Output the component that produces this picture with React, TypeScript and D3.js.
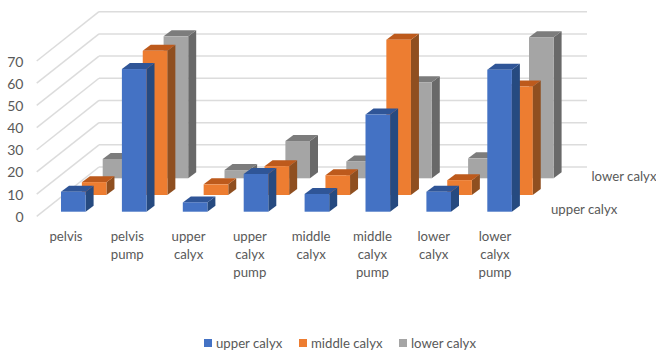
import React from "react";
import * as d3 from "d3";

const categories = [
  ["pelvis"],
  ["pelvis", "pump"],
  ["upper", "calyx"],
  ["upper", "calyx", "pump"],
  ["middle", "calyx"],
  ["middle", "calyx", "pump"],
  ["lower", "calyx"],
  ["lower", "calyx", "pump"],
];
const upperCalyx = [9, 64.3, 4.2, 17, 8, 43.8, 9, 64];
const middleCalyx = [5.8, 65, 4.8, 13, 8.9, 70, 6.7, 48.9];
const lowerCalyx = [8.7, 64, 3.7, 16.8, 7.6, 43.3, 9, 63.6];
const yTicks = [0, 10, 20, 30, 40, 50, 60, 70];
const seriesNames = ["upper calyx", "middle calyx", "lower calyx"];
const seriesValues = [upperCalyx, middleCalyx, lowerCalyx];
const seriesColors = [
  { front: "#4472c4", top: "#2f5597", side: "#264a80" },
  { front: "#ed7d31", top: "#bd5a1c", side: "#8f4f20" },
  { front: "#a5a5a5", top: "#7c7c7c", side: "#696969" },
];

const FONT = "Lato, 'Open Sans', sans-serif";
const TEXT = "#595959";
const GRID = "#dcdcdc";
const BAR_W = 24.6;
const DEPTH_X = 8;
const DEPTH_Y = 6;

// Height of a bar in pixels for a given value.
const h = d3.scaleLinear().domain([0, 70]).range([0, 155.3]);
// Left edge of each category's front bar.
const xCat = d3.scaleLinear().domain([0, 7]).range([61, 487.3]);
// Centre of each category's label block.
const xLabel = d3.scaleLinear().domain([0, 7]).range([66, 495]);
// Offsets of each series going back into the chart.
const depthX = d3.scaleLinear().domain([0, 2]).range([0, 41.7]);
const depthY = d3.scaleLinear().domain([0, 2]).range([211.7, 178.3]);

function poly(points: [number, number][]) {
  const p = d3.path();
  points.forEach(([x, y], i) => (i ? p.lineTo(x, y) : p.moveTo(x, y)));
  p.closePath();
  return p.toString();
}

function Bar({ x, base, height, colors }: any) {
  const top = base - height;
  return (
    <g>
      <path d={poly([[x + BAR_W, top], [x + BAR_W + DEPTH_X, top - DEPTH_Y], [x + BAR_W + DEPTH_X, base - DEPTH_Y], [x + BAR_W, base]])} fill={colors.side} />
      <path d={poly([[x, top], [x + DEPTH_X, top - DEPTH_Y], [x + BAR_W + DEPTH_X, top - DEPTH_Y], [x + BAR_W, top]])} fill={colors.top} />
      <rect x={x} y={top} width={BAR_W} height={height} fill={colors.front} />
    </g>
  );
}

export default function App() {
  const wallBottom = 167;
  const wallX = 99;
  const wallRight = 587;
  const floorDx = 62.3;
  const floorDy = 49.3;
  return (
    <svg
      width={656}
      height={350}
      style={{ position: "absolute", left: 0, top: 0, background: "#fff" }}
      fontFamily={FONT}
    >
      {yTicks.map((t) => {
        const y = wallBottom - h(t);
        return (
          <g key={t}>
            <line x1={wallX - floorDx} y1={y + floorDy} x2={wallX} y2={y} stroke={GRID} strokeWidth={1.5} />
            <line x1={wallX} y1={y} x2={wallRight} y2={y} stroke={GRID} strokeWidth={1.5} />
            <text x={23.5} y={y + floorDy + 5.5} textAnchor="end" fontSize={14} fill={TEXT}>{t}</text>
          </g>
        );
      })}
      {[2, 1, 0].map((s) => (
        <g key={s}>
          {seriesValues[s].map((v, i) => (
            <Bar key={i} x={xCat(i) + depthX(s)} base={depthY(s)} height={h(v)} colors={seriesColors[s]} />
          ))}
        </g>
      ))}
      {categories.map((lines, i) => (
        <text key={i} x={xLabel(i)} y={240.5} textAnchor="middle" fontSize={13.2} fill={TEXT}>
          {lines.map((l, j) => (
            <tspan key={j} x={xLabel(i)} dy={j ? 18.2 : 0}>{l}</tspan>
          ))}
        </text>
      ))}
      <text x={591.5} y={181} fontSize={13.2} fill={TEXT}>{seriesNames[2]}</text>
      <text x={551} y={214} fontSize={13.2} fill={TEXT}>{seriesNames[0]}</text>
      {seriesNames.map((name, i) => {
        const mx = [204, 299, 399][i];
        return (
          <g key={name}>
            <rect x={mx} y={339} width={8} height={8} fill={seriesColors[i].front} />
            <text x={mx + 12} y={348} fontSize={13.2} fill={TEXT}>{name}</text>
          </g>
        );
      })}
    </svg>
  );
}
